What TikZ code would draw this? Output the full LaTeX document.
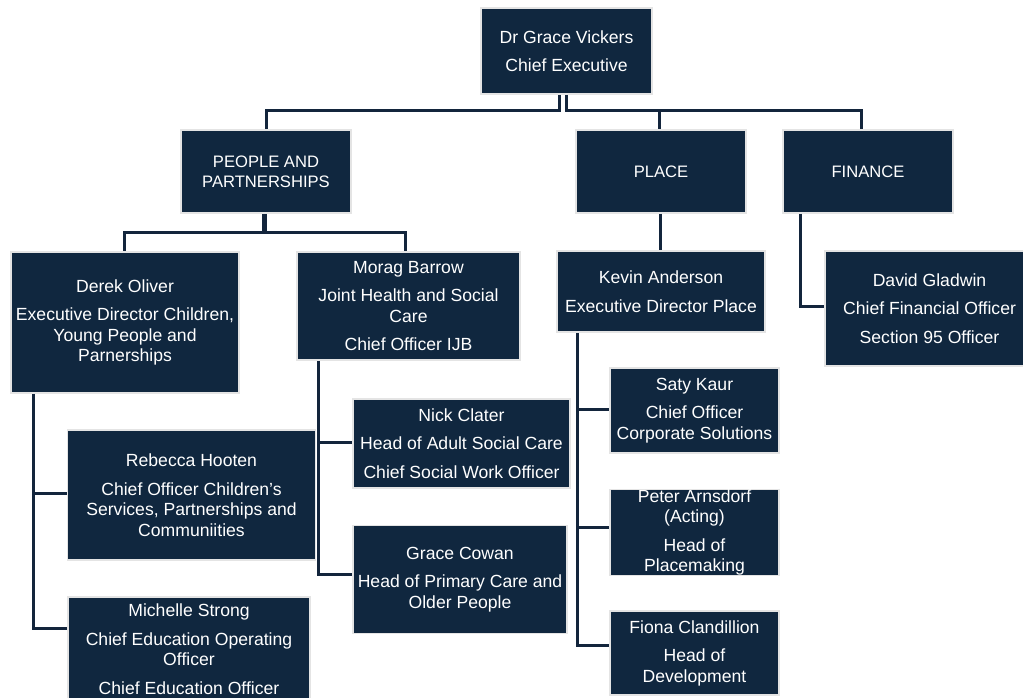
\documentclass[tikz,border=0pt]{standalone}
\usepackage{fontspec}
\setmainfont{Liberation Sans}
\definecolor{navy}{HTML}{10273F}
\definecolor{linenavy}{HTML}{13253C}
\definecolor{bordergrey}{HTML}{E4E4E4}
\begin{document}
\begin{tikzpicture}[x=1pt,y=-1pt,
  box/.style={draw=bordergrey, line width=1.6pt, fill=navy, text=white, align=center,
    inner sep=0pt, font=\fontsize{17.6}{20.5}\selectfont},
  headbox/.style={box, font=\fontsize{16.6}{20}\selectfont},
  conn/.style={draw=linenavy, line width=3pt, line cap=butt, line join=miter}]
\useasboundingbox (0,0) rectangle (1023,698);
\fill[white] (0,0) rectangle (1023,698);

% boxes
\node[box, minimum width=171pt, minimum height=86pt] (ceo) at (566.5,51) {Dr Grace Vickers\\[7.5pt]Chief Executive};
\node[headbox, minimum width=170pt, minimum height=83pt] (people) at (266,171.5) {PEOPLE AND\\PARTNERSHIPS};
\node[headbox, minimum width=170pt, minimum height=83pt] (place) at (661,171.5) {PLACE};
\node[headbox, minimum width=170pt, minimum height=83pt] (finance) at (868,171.5) {FINANCE};

\node[box, minimum width=228pt, minimum height=141pt] (derek) at (125,322.5) {Derek Oliver\\[8pt]Executive Director Children,\\Young People and\\Parnerships};
\node[box, minimum width=223pt, minimum height=108pt] (morag) at (408.5,306) {Morag Barrow\\[8pt]Joint Health and Social\\Care\\[8pt]Chief Officer IJB};
\node[box, minimum width=208pt, minimum height=81pt] (kevin) at (661,291.5) {Kevin Anderson\\[8pt]Executive Director Place};
\node[box, minimum width=209pt, minimum height=115pt] (david) at (929.5,308.5) {David Gladwin\\[8pt]Chief Financial Officer\\[8pt]Section 95 Officer};

\node[box, minimum width=248pt, minimum height=130pt] (rebecca) at (191.5,495) {Rebecca Hooten\\[8pt]Chief Officer Children's\\Services, Partnerships and\\Communiities};
\node[box, minimum width=242pt, minimum height=104pt] (michelle) at (189,649) {Michelle Strong\\[8pt]Chief Education Operating\\Officer\\[8pt]Chief Education Officer};
\node[box, minimum width=217pt, minimum height=89pt] (nick) at (461.5,443.5) {Nick Clater\\[8pt]Head of Adult Social Care\\[8pt]Chief Social Work Officer};
\node[box, minimum width=214pt, minimum height=108pt] (grace) at (460,579.5) {Grace Cowan\\[8pt]Head of Primary Care and\\Older People};
\node[box, minimum width=169pt, minimum height=85pt] (saty) at (694.5,410.5) {Saty Kaur\\[8pt]Chief Officer\\Corporate Solutions};
\node[box, minimum width=169pt, minimum height=85pt] (peter) at (694.5,532.5) {Peter Arnsdorf\\(Acting)\\[8pt]Head of\\Placemaking};
\node[box, minimum width=169pt, minimum height=84pt] (fiona) at (694.5,653) {Fiona Clandillion\\[8pt]Head of\\Development};

% connector coordinates
\coordinate (c1) at (559,111);
\coordinate (c2) at (566,111);
\coordinate (c3) at (659,111);
\coordinate (c4) at (861,111);
\coordinate (p1) at (263,232);
\coordinate (p2) at (265,232);
\coordinate (p3) at (124,232);
\coordinate (p4) at (405,232);
\coordinate (k0) at (660,232);
\coordinate (f2) at (800,306);
\coordinate (d1) at (33,493);
\coordinate (d2) at (33,628);
\coordinate (m1) at (318,442);
\coordinate (m2) at (318,574);
\coordinate (e1) at (577,409);
\coordinate (e2) at (577,527);
\coordinate (e3) at (577,645);

% connectors
\draw[conn] (c1 |- ceo.south) -- (c1) -- (c1 -| people.north) -- (people.north);
\draw[conn] (c2 |- ceo.south) -- (c2) -- (c4) -- (c4 |- finance.north);
\draw[conn] (c3) -- (c3 |- place.north);
\draw[conn] (p1 |- people.south) -- (p1) -- (p3) -- (p3 |- derek.north);
\draw[conn] (p2 |- people.south) -- (p2) -- (p4) -- (p4 |- morag.north);
\draw[conn] (k0 |- place.south) -- (k0 |- kevin.north);
\draw[conn] (f2 |- finance.south) -- (f2) -- (f2 -| david.west);
\draw[conn] (d2 |- derek.south) -- (d2) -- (d2 -| michelle.west);
\draw[conn] (d1) -- (d1 -| rebecca.west);
\draw[conn] (m2 |- morag.south) -- (m2) -- (m2 -| grace.west);
\draw[conn] (m1) -- (m1 -| nick.west);
\draw[conn] (e3 |- kevin.south) -- (e3) -- (e3 -| fiona.west);
\draw[conn] (e1) -- (e1 -| saty.west);
\draw[conn] (e2) -- (e2 -| peter.west);
\end{tikzpicture}
\end{document}
